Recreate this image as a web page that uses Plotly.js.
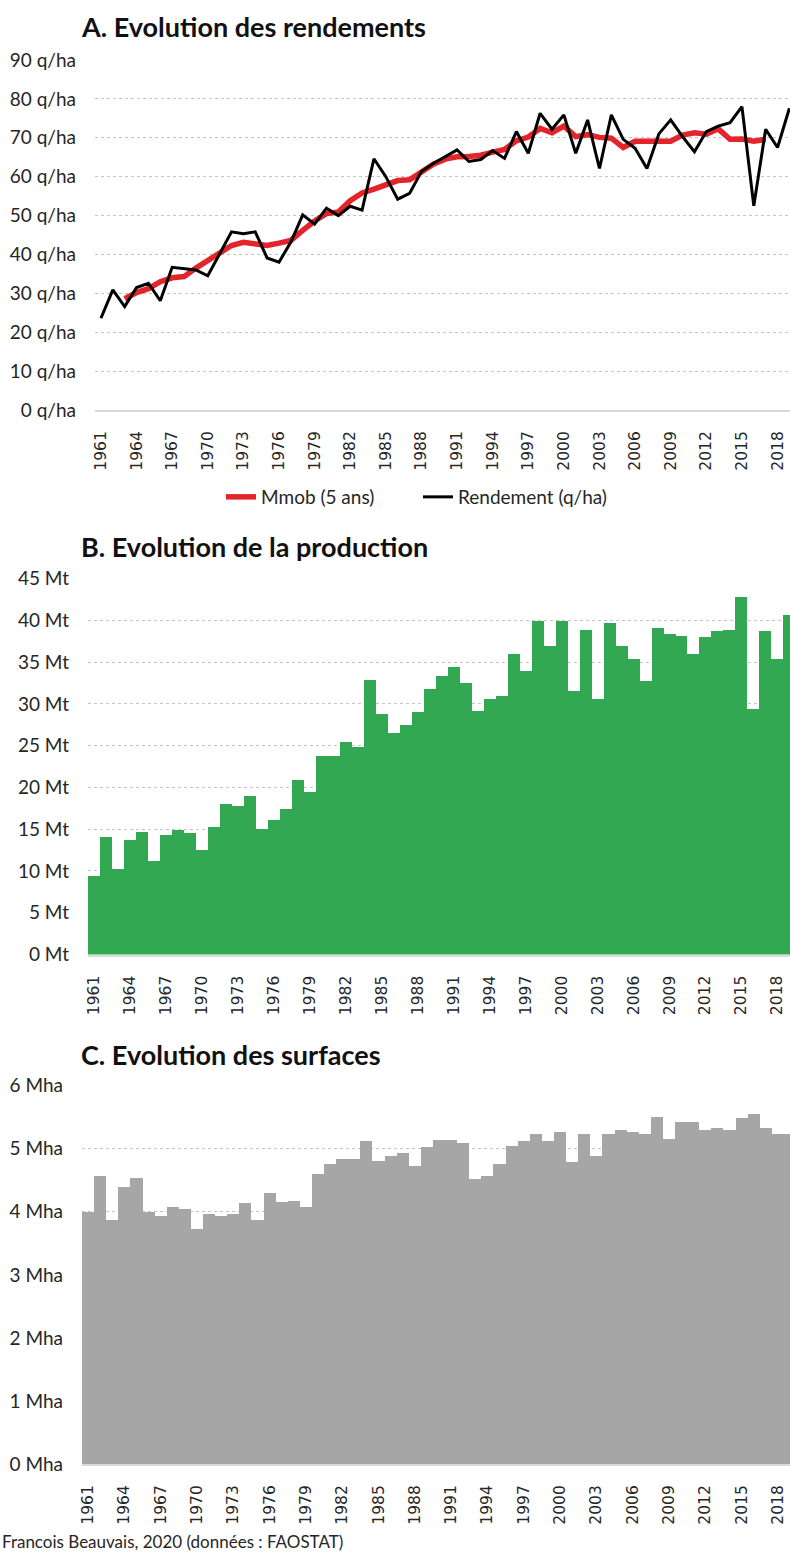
<!DOCTYPE html>
<html>
<head>
<meta charset="utf-8">
<script src="https://cdn.plot.ly/plotly-3.0.1.min.js"></script>
<style>
html,body{margin:0;padding:0;background:#fff;}
#chart{width:790px;height:1553px;}
</style>
</head>
<body>
<div id="chart"></div>
<script>
// Years 1961-2019
const years = [1961,1962,1963,1964,1965,1966,1967,1968,1969,1970,
  1971,1972,1973,1974,1975,1976,1977,1978,1979,1980,
  1981,1982,1983,1984,1985,1986,1987,1988,1989,1990,
  1991,1992,1993,1994,1995,1996,1997,1998,1999,2000,
  2001,2002,2003,2004,2005,2006,2007,2008,2009,2010,
  2011,2012,2013,2014,2015,2016,2017,2018,2019];

// Tick labels shown every 3 years
const tickYears = [1961,1964,1967,1970,1973,1976,1979,1982,1985,1988,1991,1994,1997,2000,2003,2006,2009,2012,2015,2018];

// A. Rendement (q/ha)
const rendement = [23.6,30.9,26.6,31.5,32.6,28.1,36.7,36.4,36.0,34.5,
  40.1,45.8,45.3,45.8,39.1,38.0,43.2,50.2,47.8,51.9,
  50.0,52.4,51.4,64.6,60.0,54.2,55.7,61.3,63.4,65.1,
  66.9,63.9,64.4,66.7,64.7,71.6,66.0,76.3,72.2,75.9,
  66.0,74.6,62.1,75.9,69.6,67.3,62.1,71.0,74.6,70.3,
  66.4,71.6,73.0,73.9,78.0,52.5,72.2,67.5,77.6];

// A. Moyenne mobile 5 ans (q/ha)
const mmob = [null,null,28.6,30.2,31.2,33.0,34.0,34.3,36.5,38.4,
  40.4,42.3,43.1,42.8,42.3,42.9,43.6,46.2,48.6,50.5,
  50.9,53.8,55.8,56.8,57.8,59.0,59.2,61.0,63.2,64.5,
  65.1,65.2,65.5,66.3,67.0,69.2,70.2,72.4,71.3,73.0,
  70.3,70.8,70.1,69.9,67.5,69.1,69.0,69.0,69.1,70.7,
  71.3,70.9,72.3,69.6,69.7,69.1,69.6,null,null];

// B. Production (Mt)
const production = [9.4,14.05,10.2,13.7,14.65,11.2,14.3,14.85,14.5,12.5,
  15.25,18.0,17.8,19.0,15.05,16.05,17.4,20.85,19.5,23.8,
  23.8,25.4,24.8,32.9,28.8,26.5,27.5,29.0,31.8,33.3,
  34.4,32.5,29.2,30.6,31.0,36.0,33.9,39.9,37.0,39.9,
  31.6,38.9,30.6,39.7,37.0,35.4,32.7,39.1,38.4,38.1,
  36.0,38.0,38.7,38.9,42.8,29.4,38.7,35.4,40.7];

// C. Surfaces (Mha)
const surface = [4.00,4.57,3.87,4.39,4.53,4.00,3.94,4.08,4.05,3.73,
  3.96,3.94,3.97,4.14,3.87,4.30,4.15,4.17,4.08,4.60,
  4.76,4.84,4.84,5.12,4.81,4.88,4.93,4.73,5.03,5.14,
  5.14,5.09,4.52,4.57,4.76,5.05,5.12,5.24,5.12,5.26,
  4.79,5.24,4.88,5.24,5.30,5.27,5.24,5.50,5.15,5.42,
  5.42,5.30,5.33,5.30,5.49,5.55,5.33,5.24,5.24];

const W = 790, H = 1553;
const py = v => 1 - v / H;
const px = v => v / W;

const traces = [
  {x: years, y: mmob, type: 'scatter', mode: 'lines', name: 'Mmob (5 ans)',
   line: {color: '#e3242b', width: 5.5}, xaxis: 'x', yaxis: 'y', connectgaps: false},
  {x: years, y: rendement, type: 'scatter', mode: 'lines', name: 'Rendement (q/ha)',
   line: {color: '#000000', width: 3}, xaxis: 'x', yaxis: 'y'},
  {x: years, y: production, type: 'bar', name: 'Production', showlegend: false,
   marker: {color: '#33a853', line: {width: 0}}, xaxis: 'x2', yaxis: 'y2'},
  {x: years, y: surface, type: 'bar', name: 'Surface', showlegend: false,
   marker: {color: '#a6a6a6', line: {width: 0}}, xaxis: 'x3', yaxis: 'y3'}
];

const xTickFont = {family: 'DejaVu Sans, sans-serif', size: 15.5, color: '#262626'};
const yTickFont = {family: 'Lato, sans-serif', size: 19, color: '#262626'};

function xax(domainLeft, rangeRight, anchor) {
  return {
    domain: [px(domainLeft), 1], range: [1960.5, rangeRight], anchor: anchor,
    tickmode: 'array', tickvals: tickYears, tickformat: 'd', tickangle: -90,
    tickfont: xTickFont, ticks: '', ticklabelstandoff: 13,
    showgrid: false, zeroline: false, showline: true, linecolor: '#d9d9d9', linewidth: 2,
    fixedrange: true
  };
}
function yax(bottom, top, maxv, dtick, suffix, anchor) {
  return {
    domain: [py(bottom), py(top)], range: [0, maxv], anchor: anchor,
    dtick: dtick, tick0: 0, ticksuffix: suffix, tickfont: yTickFont,
    ticks: '', ticklabelstandoff: 18,
    showgrid: true, gridcolor: '#c4c4c4', griddash: 'dot', gridwidth: 1,
    zeroline: false, showline: false, fixedrange: true
  };
}

const layout = {
  width: W, height: H,
  margin: {l: 0, r: 0, t: 0, b: 0, pad: 0},
  paper_bgcolor: '#ffffff', plot_bgcolor: 'rgba(0,0,0,0)',
  font: {family: 'Lato, sans-serif', color: '#262626'},
  bargap: 0,
  showlegend: true,
  legend: {orientation: 'h', x: px(221), xanchor: 'left', y: py(497), yanchor: 'middle',
           entrywidth: 152, entrywidthmode: 'pixels',
           font: {size: 19, color: '#262626'}, bgcolor: 'rgba(0,0,0,0)', traceorder: 'normal'},
  xaxis: xax(95, 2019.05, 'y'),
  yaxis: yax(410, 60, 90, 10, ' q/ha', 'x'),
  xaxis2: xax(88, 2019.05, 'y2'),
  yaxis2: yax(954.5, 578.7, 45, 5, ' Mt', 'x2'),
  xaxis3: xax(82, 2019.0, 'y3'),
  yaxis3: yax(1464, 1085.7, 6, 1, ' Mha', 'x3'),
  annotations: [
    {text: '<b>A. Evolution des rendements</b>', xref: 'paper', yref: 'paper', x: px(79), y: py(27),
     xanchor: 'left', yanchor: 'middle', showarrow: false, font: {size: 27, color: '#111111'}},
    {text: '<b>B. Evolution de la production</b>', xref: 'paper', yref: 'paper', x: px(79), y: py(546),
     xanchor: 'left', yanchor: 'middle', showarrow: false, font: {size: 27, color: '#111111'}},
    {text: '<b>C. Evolution des surfaces</b>', xref: 'paper', yref: 'paper', x: px(79), y: py(1054),
     xanchor: 'left', yanchor: 'middle', showarrow: false, font: {size: 27, color: '#111111'}},
    {text: 'Francois Beauvais, 2020 (données : FAOSTAT)', xref: 'paper', yref: 'paper', x: 0, y: py(1541),
     xanchor: 'left', yanchor: 'middle', showarrow: false, font: {size: 17, color: '#262626'}}
  ]
};

Plotly.newPlot('chart', traces, layout, {staticPlot: true, displayModeBar: false});
</script>
</body>
</html>
